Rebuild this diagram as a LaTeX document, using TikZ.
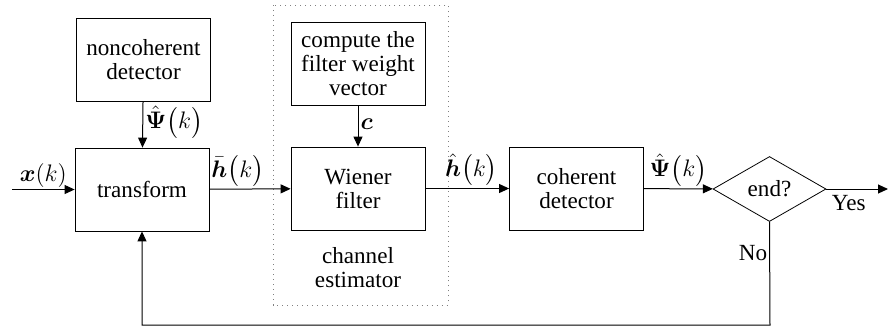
\documentclass[tikz,border=0pt]{standalone}
\usepackage{amsmath, amssymb}
\usepackage{fontspec}
\setmainfont{Liberation Serif}
\usetikzlibrary{arrows.meta, positioning, shapes.geometric}

\begin{document}
\begin{tikzpicture}[
  x=0.5bp, y=-0.5bp,
  font=\fontsize{11.6}{12}\selectfont,
  blk/.style={draw, minimum width=67bp, minimum height=41.5bp,
    inner sep=0pt, align=center},
  decide/.style={draw, diamond, minimum width=56.5bp, minimum height=32.5bp,
    inner sep=0pt, shape aspect=1.74},
  arr/.style={-{Triangle[length=5bp, width=4.5bp]}, line width=0.5bp},
  lbl/.style={inner sep=1bp, font=\fontsize{13}{14}\selectfont}
]
\useasboundingbox (0,0) rectangle (888,327);

\node[blk] (noncoh) at (143.5,59.5) {noncoherent\\detector};
\node[blk] (trans) at (142,189.5) {transform};
\node[blk] (wvec) at (358,63.5) {compute the\\filter weight\\vector};
\node[blk] (wien) at (358,188.5) {Wiener\\filter};
\node[blk] (coh) at (576.5,188.5) {coherent\\detector};
\node[decide] (dec) at (769.5,189) {end?};
\node[align=center] (chan) at (358,268) {channel\\estimator};

\coordinate (in) at (12,189.5);
\coordinate (out) at (888,189);
\coordinate (back) at (770,325);

% channel estimator group
\draw[gray, dotted, line width=0.5bp] (273,5) rectangle (448,305);

\draw[arr] (in) -- node[lbl, above, pos=0.5] {$\boldsymbol{x}(k)$} (trans);
\draw[arr] (noncoh) -- node[lbl, right, pos=0.45] {$\hat{\boldsymbol{\Psi}}\bigl(k\bigr)$} (trans);
\draw[arr] (trans) -- node[lbl, above, pos=0.35] {$\bar{\boldsymbol{h}}\bigl(k\bigr)$} (wien);
\draw[arr] (wvec) -- node[lbl, right, pos=0.45] {$\boldsymbol{c}$} (wien);
\draw[arr] (wien) -- node[lbl, above, pos=0.55] {$\hat{\boldsymbol{h}}\bigl(k\bigr)$} (coh);
\draw[arr] (coh) -- node[lbl, above, pos=0.5] {$\hat{\boldsymbol{\Psi}}\bigl(k\bigr)$} (dec);
\draw[arr] (dec) -- node[inner sep=1bp, below=2bp, pos=0.05, anchor=north west] {Yes} (out);
\draw[arr] (dec.south) -- node[inner sep=1bp, left, pos=0.3] {No} (back) -| (trans.south);
\end{tikzpicture}
\end{document}
